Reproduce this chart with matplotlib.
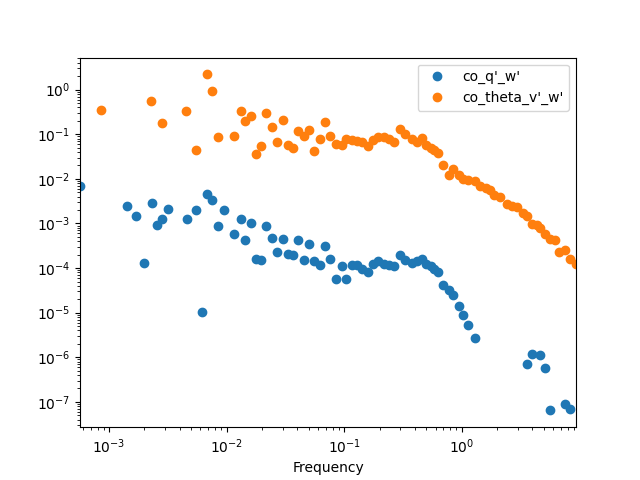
import numpy as np
import matplotlib.pyplot as plt

# cospectrum values (negative values are not shown on log axes)
freq_q = [5.67e-4, 1.434e-3, 1.71e-3, 2.0e-3, 2.31e-3, 2.58e-3, 2.84e-3, 3.16e-3,
          4.59e-3, 5.54e-3, 6.22e-3, 6.87e-3, 7.55e-3, 8.5e-3, 9.46e-3, 1.165e-2,
          1.315e-2, 1.436e-2, 1.615e-2, 1.78e-2, 1.965e-2, 2.18e-2, 2.45e-2, 2.70e-2,
          3.02e-2, 3.35e-2, 3.70e-2, 4.08e-2, 4.59e-2, 5.06e-2, 5.58e-2, 6.24e-2,
          6.92e-2, 7.59e-2, 8.59e-2, 9.54e-2, 0.1038, 0.1174, 0.1295, 0.1428,
          0.1597, 0.175, 0.193, 0.218, 0.242, 0.267, 0.301, 0.331, 0.376, 0.414,
          0.457, 0.497, 0.548, 0.585, 0.632, 0.689, 0.780, 0.848, 0.954, 1.032,
          1.138, 1.297, 3.62, 4.0, 4.6, 5.07, 5.6, 7.5, 8.4]
co_q = [6.79e-3, 2.42e-3, 1.44e-3, 1.32e-4, 2.93e-3, 9.4e-4, 1.26e-3, 2.15e-3,
        1.26e-3, 2.04e-3, 1.05e-5, 4.49e-3, 3.42e-3, 8.6e-4, 1.97e-3, 5.7e-4,
        1.26e-3, 4.18e-4, 1.04e-3, 1.63e-4, 1.54e-4, 8.93e-4, 4.71e-4, 2.33e-4,
        4.56e-4, 2.10e-4, 2.0e-4, 4.33e-4, 1.54e-4, 3.52e-4, 1.44e-4, 1.19e-4,
        3.11e-4, 1.63e-4, 5.78e-5, 1.13e-4, 5.78e-5, 1.17e-4, 1.17e-4, 9.7e-5,
        8.3e-5, 1.23e-4, 1.44e-4, 1.26e-4, 1.19e-4, 1.11e-4, 1.93e-4, 1.54e-4,
        1.32e-4, 1.41e-4, 1.58e-4, 1.26e-4, 1.09e-4, 9.7e-5, 8.1e-5, 4.09e-5,
        3.16e-5, 2.53e-5, 1.44e-5, 9.0e-6, 5.4e-6, 2.65e-6, 6.93e-7, 1.20e-6,
        1.14e-6, 5.85e-7, 6.45e-8, 9.12e-8, 7.05e-8]

freq_theta = [8.62e-4, 2.29e-3, 2.84e-3, 4.55e-3, 5.54e-3, 6.87e-3, 7.53e-3, 8.51e-3,
              1.165e-2, 1.315e-2, 1.436e-2, 1.615e-2, 1.78e-2, 1.965e-2, 2.18e-2,
              2.45e-2, 2.70e-2, 3.02e-2, 3.35e-2, 3.70e-2, 4.08e-2, 4.59e-2, 5.06e-2,
              5.58e-2, 6.24e-2, 6.92e-2, 7.59e-2, 8.59e-2, 9.54e-2, 0.1038, 0.1174,
              0.1295, 0.1428, 0.1597, 0.175, 0.193, 0.218, 0.242, 0.267, 0.301, 0.331,
              0.376, 0.414, 0.457, 0.497, 0.548, 0.585, 0.632, 0.689, 0.780, 0.848,
              0.954, 1.032, 1.138, 1.297, 1.431, 1.60, 1.741, 1.893, 2.117, 2.414,
              2.662, 2.936, 3.303, 3.62, 4.0, 4.4, 4.633, 5.07, 5.6, 6.215, 6.76,
              7.5, 8.4, 9.38]
co_theta = [0.356, 0.547, 0.175, 0.326, 0.0436, 2.20, 0.95, 0.0883,
            0.093, 0.326, 0.195, 0.256, 0.0367, 0.0535, 0.294,
            0.148, 0.0658, 0.205, 0.0585, 0.050, 0.116, 0.0897, 0.122,
            0.0414, 0.0769, 0.185, 0.0897, 0.0615, 0.0564, 0.0797, 0.073,
            0.0704, 0.0668, 0.0544, 0.0757, 0.0865, 0.0865, 0.0769, 0.0658, 0.129, 0.0995,
            0.0797, 0.0668, 0.0839, 0.0564, 0.049, 0.0436, 0.0387, 0.0208, 0.0120, 0.0169,
            0.0120, 0.0101, 0.0096, 0.00893, 0.00679, 0.00622, 0.00552, 0.00442, 0.00391, 0.00278,
            0.00251, 0.00233, 0.00175, 0.00147, 0.00099, 0.000906, 0.000805, 0.00059, 0.000447, 0.000418, 0.000229,
            0.000259, 0.000163, 0.000126]

fig, ax = plt.subplots(figsize=(6.4, 4.8), dpi=100)
ax.plot(freq_q, co_q, 'o', label="co_q'_w'")
ax.plot(freq_theta, co_theta, 'o', label="co_theta_v'_w'")
ax.set_xscale('log')
ax.set_yscale('log')
ax.set_xlim(min(freq_q), max(freq_theta))
ax.set_xlabel('Frequency')
ax.legend()
plt.savefig('out.png')
